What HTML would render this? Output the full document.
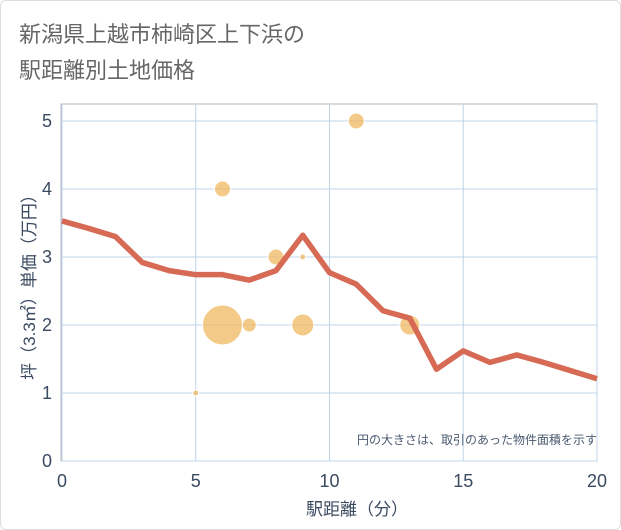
<!DOCTYPE html>
<html><head><meta charset="utf-8"><style>
body{margin:0;background:#fff;font-family:"Liberation Sans","Noto Sans CJK JP",sans-serif}
#wrap{position:relative;width:619px;height:528px;border:1px solid #ddd;border-radius:6px;overflow:hidden}
</style></head><body>
<div id="wrap">
<svg id="c" width="621" height="530">
<text x="18" y="41" font-size="22" fill="#666">新潟県上越市柿崎区上下浜の</text>
<text x="18" y="77" font-size="22" fill="#666">駅距離別土地価格</text>
<rect x="60" y="103" width="536" height="357" fill="#fff" stroke="#b0b8c4"/>
<g id="grid"></g><g id="bubbles"></g><g id="line"></g><g id="ticks"></g>
<text x="596" y="443" font-size="12" fill="#4a5a70" text-anchor="end">円の大きさは、取引のあった物件面積を示す</text>
<text x="356" y="514" font-size="17" fill="#3a4a60" text-anchor="middle">駅距離（分）</text>
<text transform="translate(34,282) rotate(-90)" font-size="17" fill="#3a4a60" text-anchor="middle">坪（3.3㎡）単価（万円）</text>
</svg></div>
<script>
const lineX=[0,1,2,3,4,5,6,7,8,9,10,11,12,13,14,15,16,17,18,19,20];
const lineY=[3.53,3.42,3.3,2.92,2.8,2.74,2.74,2.66,2.8,3.32,2.77,2.6,2.21,2.1,1.35,1.62,1.45,1.56,1.45,1.33,1.21];
const bubX=[5,6,6,7,8,9,9,11,13];
const bubY=[1,4,2,2,3,3,2,5,2];
const bubR=[3,8,20,7,8,3,11,8,10];
const xTicks=[0,5,10,15,20];
const yTicks=[0,1,2,3,4,5];
const sx=v=>61+v*26.75, sy=v=>460-v*68;
const NS="http://www.w3.org/2000/svg";
function mk(t,p,a){const e=document.createElementNS(NS,t);for(const k in a)e.setAttribute(k,a[k]);document.getElementById(p).appendChild(e);return e;}
xTicks.forEach(v=>{
 const l=mk('line','grid',{x1:sx(v),x2:sx(v),y1:103,y2:460,stroke:'#c0d4e8'});
 
 
 const t=mk('text','ticks',{x:sx(v),y:486,'font-size':18,fill:'#3a4a60','text-anchor':'middle'});t.textContent=v;
 
 
});
yTicks.forEach(v=>{
 const l=mk('line','grid',{x1:60,x2:596,y1:sy(v),y2:sy(v),stroke:'#c0d4e8'});
 
 
 const t=mk('text','ticks',{x:51,y:sy(v)+6,'font-size':18,fill:'#3a4a60','text-anchor':'end'});t.textContent=v;
 
 
});
bubX.forEach((x,i)=>{
 const c=mk('circle','bubbles',{cx:sx(x),cy:sy(bubY[i]),r:bubR[i],fill:'#f0b860','fill-opacity':0.75,stroke:'#fff','stroke-width':1});
 
 
});
const p=mk('polyline','line',{points:lineX.map((x,i)=>sx(x)+','+sy(lineY[i])).join(' '),fill:'none',stroke:'#d66a55','stroke-width':5.5,'stroke-linejoin':'round'});


</script>
</body></html>
